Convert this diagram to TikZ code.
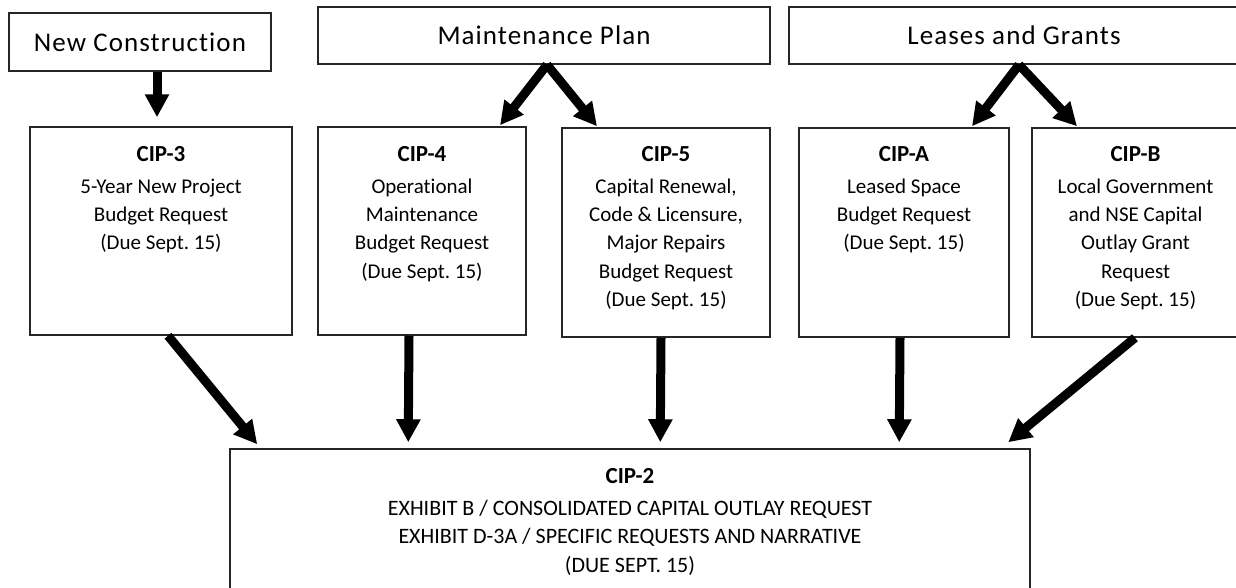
\documentclass[tikz,border=0pt]{standalone}
\usepackage{fontspec}
\setmainfont[Ligatures=NoCommon]{Carlito}
\newfontfamily\hdrfamily[LetterSpace=4,Ligatures=NoCommon]{Carlito}
\usetikzlibrary{arrows.meta,calc}
\frenchspacing
\tikzset{
  box/.style={draw=black!85, line width=1.5pt, fill=white, inner sep=0pt, anchor=center},
  hdr/.style={box, font=\hdrfamily\fontsize{27}{30}\selectfont},
  txt/.style={anchor=north, align=center, inner sep=0pt, font=\frenchspacing\fontsize{21}{28.3}\selectfont},
  bigtxt/.style={txt, font=\frenchspacing\fontsize{22}{28.5}\selectfont},
  flow/.style={line width=9pt, -{Triangle[width=23pt,length=23pt]}, black},
}
\newcommand{\ttl}[1]{\rule{0pt}{17pt}{\bfseries\fontsize{23}{28.3}\selectfont #1}\\[3.7pt]}
\begin{document}
\begin{tikzpicture}[x=1pt,y=-1pt]
\useasboundingbox (0,0) rectangle (1236,587);
\clip (0,0) rectangle (1236,587);
% header boxes
\node[hdr, minimum width=262pt, minimum height=58pt] (nc) at (140,42) {New Construction};
\node[hdr, minimum width=452pt, minimum height=57pt] (mp) at (544,35.5) {Maintenance Plan};
\node[hdr, minimum width=450pt, minimum height=57pt] (lg) at (1014,35.5) {Leases and Grants};
% request boxes
\node[box, minimum width=262pt, minimum height=208pt] (cip3) at (161,231) {};
\node[box, minimum width=208pt, minimum height=208pt] (cip4) at (422,231) {};
\node[box, minimum width=208pt, minimum height=209pt] (cip5) at (666,232.5) {};
\node[box, minimum width=210pt, minimum height=209pt] (cipa) at (904,232.5) {};
\node[box, minimum width=207pt, minimum height=209pt] (cipb) at (1135.5,232.5) {};
\node[box, minimum width=800pt, minimum height=160pt] (cip2) at (630,529) {};
% texts
\node[txt] (t3) at (161,144) {\ttl{CIP-3}5-Year New Project\\Budget Request\\(Due Sept. 15)};
\node[txt] (t4) at (422,144) {\ttl{CIP-4}Operational\\Maintenance\\Budget Request\\(Due Sept. 15)};
\node[txt] (t5) at (666,144) {\ttl{CIP-5}Capital Renewal,\\Code \& Licensure,\\Major Repairs\\Budget Request\\(Due Sept. 15)};
\node[txt] (ta) at (904,144) {\ttl{CIP-A}Leased Space\\Budget Request\\(Due Sept. 15)};
\node[txt] (tb) at (1135.5,144) {\ttl{CIP-B}Local Government\\and NSE Capital\\Outlay Grant\\Request\\(Due Sept. 15)};
\node[bigtxt] (t2) at (630,466) {\ttl{CIP-2}EXHIBIT B / CONSOLIDATED CAPITAL OUTLAY REQUEST\\EXHIBIT D-3A / SPECIFIC REQUESTS AND NARRATIVE\\(DUE SEPT. 15)};
% arrows
\draw[flow] ($(nc.south)+(17,0)$) -- ($(cip3.north)+(-4,-9)$);
\draw[flow] ($(mp.south)+(3,0)$) -- ($(cip4.north)+(78,-1)$);
\draw[flow] ($(mp.south)+(3,0)$) -- ($(cip5.north)+(-69,-1)$);
\draw[flow] ($(lg.south)+(5,0)$) -- ($(cipa.north)+(68,-1)$);
\draw[flow] ($(lg.south)+(5,0)$) -- ($(cipb.north)+(-58.5,-1)$);
\draw[flow] ($(cip3.south)+(7,0)$) -- ($(cip2.north west)+(28,-4)$);
\draw[flow] ($(cip4.south)+(-13,0)$) -- ($(cip2.north west)+(179,-6)$);
\draw[flow] ($(cip5.south)+(-5,0)$) -- ($(cip2.north west)+(431,-6)$);
\draw[flow] ($(cipa.south)+(-4,0)$) -- ($(cip2.north west)+(670,-6)$);
\draw[flow] ($(cipb.south)+(-0.5,0)$) -- ($(cip2.north west)+(779,-6)$);
\end{tikzpicture}
\end{document}
